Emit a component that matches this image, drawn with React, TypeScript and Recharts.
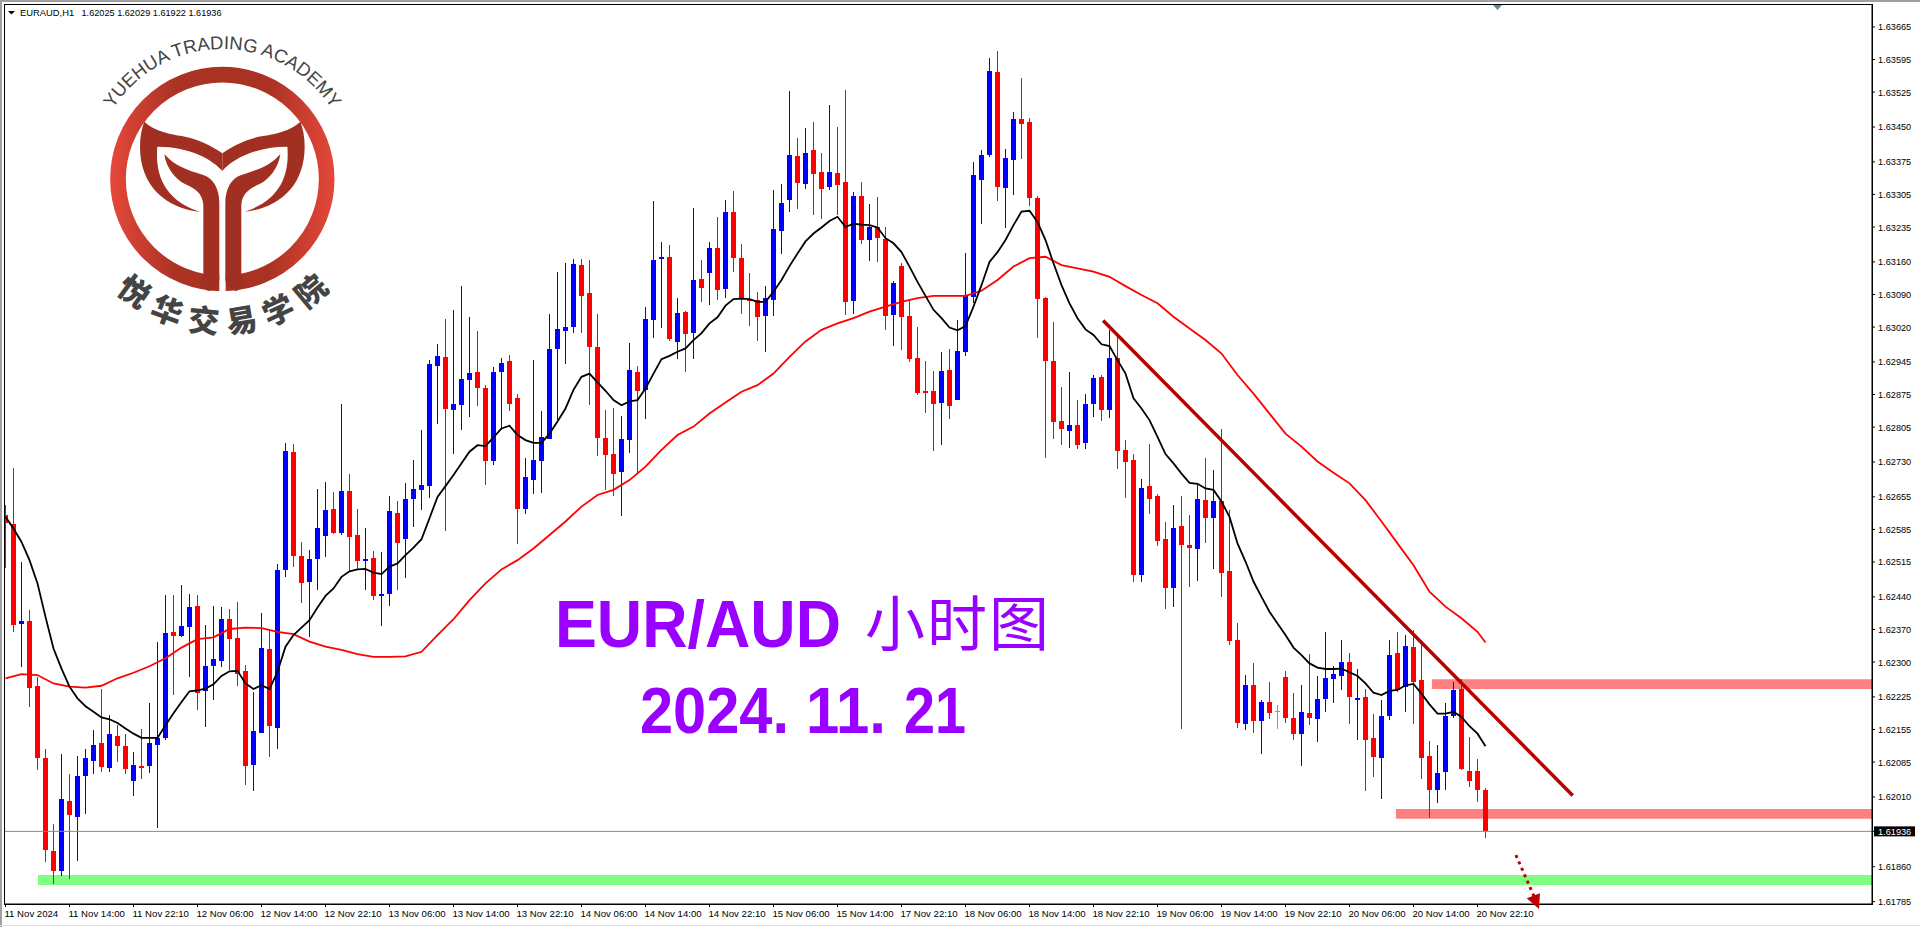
import {
  ComposedChart,
  Bar,
  Line,
  XAxis,
  YAxis,
  ReferenceArea,
  ReferenceLine,
} from 'recharts';

// prices are kept in points (1e-5)
const POINT = 1e-5;

const opens = [
  162616,162596,162382,162388,162248,162093,161894,161851,162001,161967,
  162055,162087,162126,162073,162141,162119,162045,162076,162077,162122,
  162136,162364,162356,162376,162420,162238,162291,162302,162392,162351,
  162280,162079,162148,162328,162159,162498,162751,162528,162472,162521,
  162571,162629,162577,162667,162573,162517,162523,162442,162447,162620,
  162565,162650,162670,162678,162937,162955,162842,162852,162906,162923,
  162889,162732,162923,162947,162867,162629,162691,162732,162779,162973,
  163011,163020,163153,163093,162977,162781,162747,162708,162777,162923,
  162885,163035,163166,163170,162988,163052,163007,163123,163136,163190,
  163102,163267,163168,163081,163078,163044,163078,163226,163293,163388,
  163327,163401,163353,163321,163351,163332,163076,163302,163207,163235,
  163209,163046,163151,163044,162954,162883,162883,162857,162928,162863,
  162966,163085,163336,163390,163568,163319,163379,163467,163461,163297,
  163082,162947,162818,162797,162809,162771,162855,162913,162842,162953,
  162756,162734,162487,162678,162657,162564,162459,162592,162551,162543,
  162648,162609,162646,162495,162347,162167,162250,162173,162214,162195,
  162268,162180,162145,162190,162177,162220,162263,162270,162300,162218,
  162225,162136,162093,162184,162319,162246,162332,162261,162098,162025,
  162063,162184,162242,162065,162065,162025,
];

const highs = [
  162637,162716,162514,162412,162268,162112,161951,162102,162060,162098,
  162112,162154,162243,162186,162164,162146,162106,162157,162213,162342,
  162444,162444,162465,162446,162444,162379,162420,162418,162413,162429,
  162293,162235,162405,162372,162510,162771,162768,162558,162541,162672,
  162687,162665,162854,162704,162629,162588,162538,162536,162657,162646,
  162685,162734,162799,162949,162983,163037,163057,163108,163041,163011,
  162895,162934,162953,162960,162876,162738,162949,162839,163048,163138,
  163158,163166,163166,163164,163048,162842,162846,162829,162986,162936,
  163063,163291,163203,163196,163082,163054,163276,163164,163203,163257,
  163293,163312,163198,163136,163095,163108,163315,163327,163527,163426,
  163448,163461,163394,163497,163450,163530,163310,163332,163284,163300,
  163235,163119,163158,163078,163020,162947,162926,162966,162973,163035,
  163179,163375,163401,163598,163613,163403,163482,163555,163469,163302,
  163085,163031,162891,162923,162863,162876,162917,162917,163014,162999,
  162777,162747,162693,162768,162661,162601,162637,162657,162616,162680,
  162738,162713,162801,162627,162384,162272,162298,162218,162257,162207,
  162280,162233,162250,162317,162270,162364,162291,162347,162319,162285,
  162242,162188,162218,162347,162364,162358,162368,162347,162130,162121,
  162212,162257,162263,162139,162091,162029,
];

const lows = [
  162503,162365,162290,162204,162068,161870,161823,161840,161833,161873,
  161974,162059,162064,162064,162086,162059,162012,162048,162062,161944,
  162132,162229,162354,162268,162197,162161,162218,162289,162283,162248,
  162035,162023,162148,162096,162113,162483,162505,162427,162354,162455,
  162525,162575,162573,162494,162498,162455,162433,162377,162420,162455,
  162480,162590,162627,162653,162811,162581,162747,162799,162827,162850,
  162680,162723,162799,162839,162554,162618,162662,162663,162779,162820,
  162940,163007,163007,162852,162743,162670,162657,162614,162749,162704,
  162822,162996,163018,162990,162951,162923,162951,163074,163067,163078,
  163082,163138,163048,163022,162990,162966,163044,163177,163267,163274,
  163317,163261,163252,163315,163261,163046,163048,163198,163162,163160,
  163014,162979,162971,162945,162874,162835,162754,162767,162822,162863,
  162958,163071,163242,163386,163291,163233,163304,163381,163280,162997,
  162739,162779,162767,162760,162758,162758,162827,162818,162824,162715,
  162652,162472,162472,162618,162549,162414,162418,162156,162461,162474,
  162556,162500,162440,162336,162158,162154,162147,162102,162177,162156,
  162169,162132,162076,162164,162128,162192,162212,162240,162166,162132,
  162022,162052,162005,162175,162235,162192,162166,162048,161964,161997,
  162025,162179,162068,162031,161999,161922,
];

const closes = [
  162598,162380,162388,162245,162094,161896,161851,162005,161972,162055,
  162093,162121,162075,162145,162120,162071,162078,162073,162126,162136,
  162362,162356,162377,162418,162234,162291,162306,162392,162350,162275,
  162077,162152,162330,162163,162498,162753,162528,162470,162521,162588,
  162627,162577,162667,162569,162517,162521,162442,162446,162624,162556,
  162650,162672,162680,162941,162958,162844,162854,162908,162921,162889,
  162732,162923,162943,162854,162629,162698,162734,162784,162973,163016,
  163020,163155,163087,162977,162781,162745,162704,162779,162928,162882,
  163037,163164,163170,162994,163050,163005,163121,163104,163190,163100,
  163267,163168,163080,163078,163042,163082,163231,163287,163390,163330,
  163394,163349,163317,163353,163325,163074,163302,163207,163235,163211,
  163044,163115,163042,162951,162878,162879,162855,162926,162850,162969,
  163087,163347,163390,163570,163321,163383,163467,163456,163297,163080,
  162947,162816,162801,162809,162767,162855,162910,162842,162953,162753,
  162730,162487,162674,162650,162560,162459,162588,162551,162545,162650,
  162609,162646,162491,162345,162169,162250,162173,162214,162190,162195,
  162180,162145,162192,162180,162220,162266,162274,162300,162225,162222,
  162132,162095,162184,162315,162240,162334,162257,162093,162025,162061,
  162184,162240,162070,162044,162025,161936,
];

// black moving average, one value per bar
const fastMa = [
  162612,162587,162558,162519,162469,162397,162329,162286,162247,162222,
  162205,162193,162181,162177,162169,162157,162146,162137,162137,162137,
  162164,162190,162214,162237,162239,162243,162252,162270,162280,162281,
  162254,162242,162250,162242,162279,162333,162358,162374,162390,162417,
  162442,162458,162483,162495,162499,162500,162492,162489,162505,162512,
  162530,162546,162564,162609,162655,162678,162702,162727,162752,162766,
  162764,162783,162802,162808,162788,162777,162771,162771,162791,162817,
  162845,162885,162913,162920,162901,162883,162863,162852,162860,162863,
  162888,162920,162951,162958,162967,162974,162992,163007,163028,163041,
  163066,163080,163081,163080,163074,163074,163096,163121,163151,163178,
  163204,163221,163234,163248,163257,163235,163242,163240,163239,163234,
  163211,163200,163181,163150,163117,163087,163057,163039,163019,163013,
  163022,163064,163110,163160,163181,163207,163239,163268,163270,163246,
  163207,163157,163110,163071,163039,163015,163003,162983,162979,162949,
  162920,162867,162845,162820,162784,162747,162727,162705,162685,162683,
  162673,162670,162645,162612,162555,162516,162473,162440,162408,162383,
  162358,162331,162315,162297,162288,162285,162285,162286,162278,162270,
  162254,162234,162229,162238,162240,162250,162253,162232,162209,162189,
  162189,162193,162182,162162,162146,162119,
];

// red moving average, read at every second bar
const slowMaBars = [
  0,2,4,6,8,10,12,14,16,18,20,22,24,26,28,30,32,34,36,38,40,42,44,46,48,50,52,54,56,58,
  60,62,64,66,68,70,72,74,76,78,80,82,84,86,88,90,92,94,96,98,100,102,104,106,108,110,
  112,114,116,118,120,122,124,126,128,130,132,134,136,138,140,142,144,146,148,150,152,
  154,156,158,160,162,164,166,168,170,172,174,176,178,180,182,184,185,
];
const slowMaValues = [
  162265,162274,162272,162254,162247,162245,162249,162265,162277,162291,162308,162331,162349,
  162353,162371,162374,162373,162365,162360,162344,162333,162326,162317,162311,162311,162312,
  162322,162358,162392,162433,162469,162499,162519,162544,162573,162602,162634,162659,162670,
  162691,162720,162756,162788,162806,162834,162858,162881,162895,162920,162956,162989,163014,
  163028,163039,163053,163064,163074,163082,163087,163087,163087,163098,163121,163150,163168,
  163171,163153,163146,163139,163128,163108,163089,163071,163042,163017,162992,162963,162917,
  162877,162834,162791,162763,162731,162707,162684,162648,162602,162555,162508,162451,162419,
  162394,162365,162342,
];

const dateLabels = [
  '11 Nov 2024','11 Nov 14:00','11 Nov 22:10','12 Nov 06:00','12 Nov 14:00','12 Nov 22:10',
  '13 Nov 06:00','13 Nov 14:00','13 Nov 22:10','14 Nov 06:00','14 Nov 14:00','14 Nov 22:10',
  '15 Nov 06:00','15 Nov 14:00','17 Nov 22:10','18 Nov 06:00','18 Nov 14:00','18 Nov 22:10',
  '19 Nov 06:00','19 Nov 14:00','19 Nov 22:10','20 Nov 06:00','20 Nov 14:00','20 Nov 22:10',
];
const BARS_PER_LABEL = 8;
const dateTicks = dateLabels.map((_, i) => i * BARS_PER_LABEL);

const priceTicks = [
  1.63665,1.63595,1.63525,1.6345,1.63375,1.63305,1.63235,1.6316,1.6309,1.6302,1.62945,1.62875,
  1.62805,1.6273,1.62655,1.62585,1.62515,1.6244,1.6237,1.623,1.62225,1.62155,1.62085,1.6201,
  1.61936,1.6186,1.61785,
];
const LAST_PRICE = 1.61936;

const X_MIN = -0.0625;
const X_MAX = 233.3125;
const Y_MIN = 1.617799;
const Y_MAX = 1.637122;

const rows = opens.map((open, i) => {
  const slowIdx = slowMaBars.indexOf(i);
  return {
    bar: i,
    open: open * POINT,
    high: highs[i] * POINT,
    low: lows[i] * POINT,
    close: closes[i] * POINT,
    range: [lows[i] * POINT, highs[i] * POINT],
    fast: fastMa[i] * POINT,
    slow: slowIdx >= 0 ? slowMaValues[slowIdx] * POINT : null,
  };
});

const TICK_FONT = '"Liberation Sans", Arial, sans-serif';

function Candle(props: any) {
  const { x, y, width, height, payload } = props;
  const { open, high, low, close } = payload;
  const cx = Math.floor(x + width / 2) + 0.5;
  const yOf = (p: number) => y + ((high - p) / (high - low)) * height;
  const top = Math.round(yOf(Math.max(open, close)));
  const bottom = Math.round(yOf(Math.min(open, close)));
  const color = close > open ? '#0000ff' : close < open ? '#ff0000' : '#00ff00';
  const isDoji = open === close;
  return (
    <g shapeRendering="crispEdges">
      <line x1={cx} x2={cx} y1={Math.round(y)} y2={Math.round(y + height)} stroke={color} strokeWidth={1} />
      {isDoji ? (
        <line x1={cx - 2.5} x2={cx + 2.5} y1={top + 0.5} y2={top + 0.5} stroke={color} strokeWidth={1} />
      ) : (
        <rect x={cx - 2.5} y={top} width={5} height={Math.max(bottom - top, 2)} fill={color} />
      )}
    </g>
  );
}

function DateTick({ x, y, payload }: any) {
  const label = dateLabels[payload.value / BARS_PER_LABEL];
  return (
    <g>
      <line x1={x} x2={x} y1={y} y2={y + 3} stroke="#000" />
      <text x={x - 1} y={y + 13} fontSize={9.6} fontFamily={TICK_FONT} fill="#000" textAnchor="start">
        {label}
      </text>
    </g>
  );
}

function PriceTick({ x, y, payload }: any) {
  const isLast = payload.value === LAST_PRICE;
  return (
    <g>
      <line x1={x} x2={x + 3} y1={y} y2={y} stroke="#000" />
      {isLast && <rect x={x + 2} y={y - 5} width={41} height={10} fill="#000" />}
      <text x={x + 6} y={y + 3.5} fontSize={9.2} fontFamily={TICK_FONT} fill={isLast ? '#fff' : '#000'} textAnchor="start">
        {payload.value.toFixed(5)}
      </text>
    </g>
  );
}

function Backdrop() {
  return (
    <svg width={1920} height={927} style={{ position: 'absolute', left: 0, top: 0 }}>
      <rect x={0} y={0} width={1920} height={2} fill="#a0a0a0" />
      <rect x={0} y={0} width={2} height={927} fill="#a0a0a0" />
      <rect x={0} y={925} width={1920} height={1} fill="#e0e0e0" />
      <rect x={4.5} y={4.5} width={1868} height={900} fill="#fff" stroke="#000" shapeRendering="crispEdges" />
    </svg>
  );
}

function Overlay() {
  const inkFill = '#a23022';
  const tail =
    'M433,365 C465,395 515,403 545,408 C590,415 640,440 667,460 L667,513 C640,480 570,440 472,440 C465,520 490,600 600,635 C500,625 420,560 420,440 C420,410 425,385 433,365 Z';
  const stem =
    'M493,462 C497,500 525,538 555,552 C585,565 608,580 610,615 L610,822 L600,860 L625,873 C645,870 658,855 658,835 L658,610 C658,565 640,535 610,525 C560,510 520,495 493,462 Z';
  return (
    <svg width={1920} height={927} style={{ position: 'absolute', left: 0, top: 0, pointerEvents: 'none' }}>
      <defs>
        <linearGradient id="ring" gradientUnits="userSpaceOnUse" x1={330} x2={1004} y1={0} y2={0}>
          <stop offset="0" stopColor="#e5483a" />
          <stop offset="0.3" stopColor="#a93223" />
          <stop offset="0.7" stopColor="#a93223" />
          <stop offset="1" stopColor="#e5483a" />
        </linearGradient>
        <path id="logoTop" d="M112.1,110.1 A130,130 0 0 1 332.5,110.1" />
        <path id="logoBottom" d="M97.5,270 A155,155 0 0 0 347.1,270" />
      </defs>

      {/* chart title */}
      <polygon points="8,11 15,11 11.5,14.5" fill="#000" />
      <text x={20} y={16} fontSize={9.4} fontFamily={TICK_FONT} fill="#000">EURAUD,H1</text>
      <text x={81.5} y={16} fontSize={9.16} fontFamily={TICK_FONT} fill="#000">1.62025 1.62029 1.61922 1.61936</text>

      {/* chart shift marker */}
      <polygon points="1493,5 1502,5 1497.5,10" fill="#6b8599" />

      {/* logo */}
      <g transform="scale(0.33333)">
        <circle cx={667} cy={537} r={313} fill="none" stroke="url(#ring)" strokeWidth={47} />
        <rect x={658} y={790} width={19} height={95} fill="#fff" />
        <path d={tail} fill={inkFill} />
        <path d={stem} fill={inkFill} />
        <g transform="translate(1334,0) scale(-1,1)">
          <path d={tail} fill={inkFill} />
          <path d={stem} fill={inkFill} />
        </g>
      </g>
      <text fontSize={18.5} fontFamily={TICK_FONT} fill="#444">
        <textPath href="#logoTop" startOffset="50%" textAnchor="middle">YUEHUA TRADING ACADEMY</textPath>
      </text>
      <text fontSize={31} fontWeight={900} fontFamily='"Noto Sans CJK SC", sans-serif' fill="#444" letterSpacing={10}>
        <textPath href="#logoBottom" startOffset="52%" textAnchor="middle">悦华交易学院</textPath>
      </text>

      {/* headline */}
      <text x={555} y={647} fontSize={66} fontWeight={700} fontFamily={TICK_FONT} fill="#9900ff" textLength={286} lengthAdjust="spacingAndGlyphs">
        EUR/AUD
      </text>
      <text x={865} y={646} fontSize={60} fontFamily='"Noto Sans CJK SC", sans-serif' fill="#9900ff" letterSpacing={2}>
        小时图
      </text>
      <text x={640} y={733} fontSize={64} fontWeight={700} fontFamily={TICK_FONT} fill="#9900ff" textLength={149} lengthAdjust="spacingAndGlyphs">
        2024.
      </text>
      <text x={806} y={733} fontSize={64} fontWeight={700} fontFamily={TICK_FONT} fill="#9900ff" textLength={80} lengthAdjust="spacingAndGlyphs">
        11.
      </text>
      <text x={904} y={733} fontSize={64} fontWeight={700} fontFamily={TICK_FONT} fill="#9900ff" textLength={62} lengthAdjust="spacingAndGlyphs">
        21
      </text>

      {/* arrow head of the dotted projection */}
      <polygon points="1526.7,898.3 1540,893.3 1539,909" fill="#c00000" />
    </svg>
  );
}

export default function App() {
  return (
    <div style={{ position: 'absolute', left: 0, top: 0, width: 1920, height: 927, overflow: 'hidden', background: '#fff' }}>
      <Backdrop />
      <div style={{ position: 'absolute', left: 0, top: 0 }}>
        <ComposedChart width={1920} height={927} data={rows} margin={{ top: 5, right: 0, bottom: 0, left: 5 }}>
          <XAxis
            dataKey="bar"
            type="number"
            domain={[X_MIN, X_MAX]}
            allowDataOverflow
            ticks={dateTicks}
            interval={0}
            height={23}
            axisLine={{ stroke: '#000' }}
            tickLine={false}
            tickSize={0}
            tickMargin={0}
            tick={DateTick}
          />
          <YAxis
            orientation="right"
            type="number"
            domain={[Y_MIN, Y_MAX]}
            allowDataOverflow
            ticks={priceTicks}
            interval={0}
            width={48}
            axisLine={{ stroke: '#000' }}
            tickLine={false}
            tickSize={0}
            tickMargin={0}
            tick={PriceTick}
          />
          <ReferenceArea x1={4.06} x2={X_MAX} y1={1.61821} y2={1.61842} fill="#80ff80" fillOpacity={1} stroke="none" />
          <ReferenceArea x1={178.3} x2={X_MAX} y1={1.62242} y2={1.62263} fill="#ff8080" fillOpacity={1} stroke="none" />
          <ReferenceArea x1={173.8} x2={X_MAX} y1={1.61963} y2={1.61984} fill="#ff8080" fillOpacity={1} stroke="none" />
          <ReferenceLine y={LAST_PRICE} stroke="#808a90" strokeWidth={1} />
          <Bar dataKey="range" barSize={5} shape={Candle} isAnimationActive={false} />
          <Line dataKey="slow" type="linear" stroke="#ff0000" strokeWidth={1.8} dot={false} connectNulls isAnimationActive={false} />
          <Line dataKey="fast" type="linear" stroke="#000000" strokeWidth={1.8} dot={false} isAnimationActive={false} />
          <ReferenceLine
            segment={[
              { x: 137.2, y: 1.63034 },
              { x: 195.9, y: 1.62013 },
            ]}
            stroke="#b80000"
            strokeWidth={3.5}
          />
          <ReferenceLine
            segment={[
              { x: 188.8, y: 1.61885 },
              { x: 191.1, y: 1.61795 },
            ]}
            stroke="#c00000"
            strokeWidth={3}
            strokeDasharray="3 4"
          />
        </ComposedChart>
      </div>
      <Overlay />
    </div>
  );
}
